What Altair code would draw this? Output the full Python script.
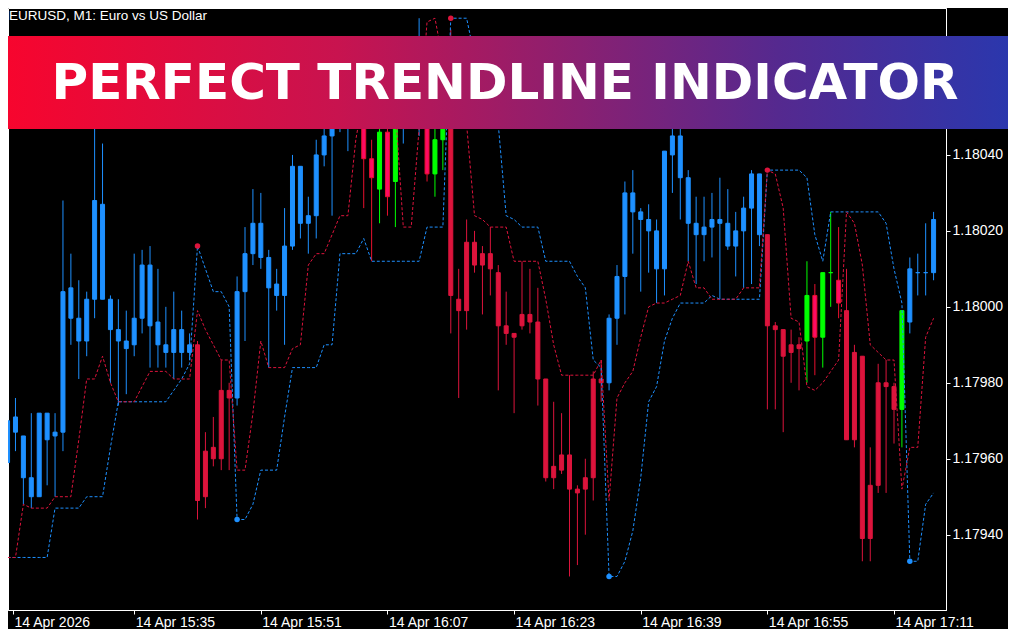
import altair as alt
import pandas as pd

# ---------------- data ----------------
# one candle per minute; index 0 = 14 Apr 15:19
candle_kind = ("bbbbbbbbbbbbbbbbbbbbbbbb" "rrrrr" "bbbbbbbbbbbbbbbb" "ppgpg" "bbb" "pgg"
               "rrrrrrrrrrrrrrrrrrrr" "bbbbbbbbbbbbbbbbbbbb" "rrrrr" "gpggp" "rrrrrrr" "g" "bbbb")

opens = [
    1.17959, 1.17967, 1.17955, 1.17950, 1.17950, 1.17965, 1.17966, 1.17967, 1.17997, 1.17991,
    1.17991, 1.18002, 1.18002, 1.17994, 1.17991, 1.17989, 1.17990, 1.17997, 1.17995, 1.17990,
    1.17988, 1.17988, 1.17988, 1.17988, 1.17990, 1.17962, 1.17963, 1.17978, 1.17978, 1.17976,
    1.18004, 1.18014, 1.18013, 1.18005, 1.18003, 1.18003, 1.18016, 1.18022, 1.18022, 1.18024,
    1.18040, 1.18045, 1.18050, 1.18049, 1.18056, 1.18055, 1.18039, 1.18031, 1.18046, 1.18033,
    1.18051, 1.18055, 1.18055, 1.18062, 1.18035, 1.18044, 1.18069, 1.18002, 1.18017, 1.18017,
    1.18014, 1.18014, 1.18009, 1.17995, 1.17993, 1.17998, 1.17998, 1.17996, 1.17981, 1.17958,
    1.17961, 1.17961, 1.17952, 1.17955, 1.17981, 1.17981, 1.17980, 1.17997, 1.18008, 1.18025,
    1.18023, 1.18020, 1.18010, 1.18010, 1.18040, 1.18034, 1.18022, 1.18019, 1.18019, 1.18021,
    1.18022, 1.18016, 1.18016, 1.18020, 1.18026, 1.18019, 1.18019, 1.17995, 1.17994, 1.17990,
    1.17990, 1.17991, 1.18003, 1.17992, 1.18009, 1.18007, 1.17999, 1.17988, 1.17987, 1.17953,
    1.17980, 1.17980, 1.17979, 1.17973, 1.17996, 1.18009, 1.18009, 1.18009]

highs = [
    1.17972, 1.17976, 1.17966, 1.17972, 1.17972, 1.17972, 1.17972, 1.18028, 1.18014, 1.18007,
    1.18004, 1.18050, 1.18043, 1.18003, 1.18002, 1.17999, 1.18014, 1.18015, 1.18016, 1.18010,
    1.18000, 1.18004, 1.17999, 1.17993, 1.17991, 1.17967, 1.17971, 1.17986, 1.17980, 1.18008,
    1.18021, 1.18031, 1.18030, 1.18015, 1.18010, 1.18026, 1.18040, 1.18037, 1.18029, 1.18044,
    1.18051, 1.18057, 1.18065, 1.18062, 1.18069, 1.18060, 1.18044, 1.18048, 1.18051, 1.18056,
    1.18068, 1.18070, 1.18076, 1.18068, 1.18052, 1.18065, 1.18073, 1.18010, 1.18023, 1.18020,
    1.18016, 1.18021, 1.18011, 1.18004, 1.17993, 1.18012, 1.18010, 1.18005, 1.17981, 1.17975,
    1.17972, 1.17982, 1.17953, 1.17960, 1.17983, 1.17986, 1.17998, 1.18011, 1.18033, 1.18036,
    1.18026, 1.18027, 1.18023, 1.18041, 1.18051, 1.18048, 1.18036, 1.18029, 1.18029, 1.18030,
    1.18034, 1.18031, 1.18025, 1.18029, 1.18036, 1.18035, 1.18019, 1.17996, 1.17994, 1.17994,
    1.17992, 1.18012, 1.18006, 1.18009, 1.18025, 1.18021, 1.18010, 1.17990, 1.17987, 1.17963,
    1.17985, 1.17986, 1.17980, 1.17999, 1.18013, 1.18014, 1.18022, 1.18025]

lows = [
    1.17958, 1.17962, 1.17948, 1.17947, 1.17950, 1.17953, 1.17950, 1.17962, 1.17990, 1.17981,
    1.17987, 1.17997, 1.18002, 1.17980, 1.17974, 1.17977, 1.17987, 1.17993, 1.17984, 1.17984,
    1.17984, 1.17981, 1.17984, 1.17986, 1.17944, 1.17947, 1.17958, 1.17957, 1.17957, 1.17974,
    1.17991, 1.18011, 1.18010, 1.17984, 1.17999, 1.17990, 1.18015, 1.18018, 1.18014, 1.18018,
    1.18037, 1.18024, 1.18046, 1.18041, 1.18052, 1.18026, 1.18012, 1.18022, 1.18024, 1.18021,
    1.18043, 1.18051, 1.18045, 1.18033, 1.18029, 1.18036, 1.17993, 1.17976, 1.17994, 1.18009,
    1.17998, 1.18003, 1.17978, 1.17990, 1.17972, 1.17994, 1.17993, 1.17974, 1.17954, 1.17952,
    1.17956, 1.17929, 1.17932, 1.17940, 1.17949, 1.17975, 1.17978, 1.17990, 1.17998, 1.18014,
    1.18004, 1.18009, 1.18001, 1.18003, 1.18030, 1.18023, 1.18012, 1.18006, 1.18012, 1.18013,
    1.18002, 1.18015, 1.18008, 1.18005, 1.18006, 1.18016, 1.17973, 1.17973, 1.17967, 1.17980,
    1.17978, 1.17980, 1.17982, 1.17984, 1.18000, 1.17997, 1.17965, 1.17963, 1.17933, 1.17933,
    1.17951, 1.17951, 1.17964, 1.17963, 1.17993, 1.18003, 1.18003, 1.18007]

closes = [
    1.17970, 1.17971, 1.17966, 1.17955, 1.17972, 1.17972, 1.17967, 1.18004, 1.18005, 1.17997,
    1.18002, 1.18028, 1.18027, 1.18002, 1.17994, 1.17991, 1.17997, 1.18011, 1.18011, 1.17996,
    1.17990, 1.17994, 1.17994, 1.17990, 1.17949, 1.17950, 1.17960, 1.17960, 1.17976, 1.18004,
    1.18014, 1.18022, 1.18022, 1.18013, 1.18006, 1.18016, 1.18037, 1.18037, 1.18024, 1.18040,
    1.18045, 1.18053, 1.18061, 1.18059, 1.18066, 1.18039, 1.18034, 1.18046, 1.18029, 1.18052,
    1.18062, 1.18065, 1.18068, 1.18035, 1.18044, 1.18060, 1.18003, 1.17999, 1.17999, 1.18011,
    1.18011, 1.18010, 1.17995, 1.17993, 1.17992, 1.17995, 1.17996, 1.17981, 1.17955, 1.17955,
    1.17957, 1.17952, 1.17951, 1.17952, 1.17955, 1.17980, 1.17997, 1.18008, 1.18030, 1.18030,
    1.18025, 1.18023, 1.18020, 1.18041, 1.18045, 1.18045, 1.18034, 1.18022, 1.18021, 1.18023,
    1.18023, 1.18022, 1.18020, 1.18026, 1.18035, 1.18035, 1.17995, 1.17994, 1.17987, 1.17988,
    1.17989, 1.18003, 1.17992, 1.18009, 1.18009, 1.18001, 1.17965, 1.17965, 1.17939, 1.17939,
    1.17953, 1.17979, 1.17973, 1.17999, 1.18010, 1.18009, 1.18009, 1.18023]

red_line = [
    1.17934, 1.17934, 1.17948, 1.17947, 1.17947, 1.17947, 1.17950, 1.17950, 1.17950, 1.17965,
    1.17981, 1.17981, 1.17987, 1.17980, 1.17975, 1.17975, 1.17975, 1.17979, 1.17983, 1.17983,
    1.17983, 1.17981, 1.17981, 1.17981, 1.17999, 1.17994, 1.17990, 1.17986, 1.17986, 1.17957,
    1.17957, 1.17972, 1.17991, 1.17984, 1.17984, 1.17984, 1.17989, 1.17990, 1.18011, 1.18014,
    1.18014, 1.18019, 1.18024, 1.18024, 1.18044, 1.18056, 1.18057, 1.18057, 1.18056, 1.18052,
    1.18021, 1.18021, 1.18047, 1.18075, 1.18076, 1.18065, 1.18060, 1.18056, 1.18048, 1.18024,
    1.18023, 1.18021, 1.18021, 1.18021, 1.18012, 1.18012, 1.18012, 1.18012, 1.18002, 1.17990,
    1.17982, 1.17982, 1.17982, 1.17982, 1.17982, 1.17986, 1.17949, 1.17976, 1.17980, 1.17983,
    1.17992, 1.18000, 1.18001, 1.18001, 1.18002, 1.18003, 1.18012, 1.18005, 1.18005, 1.18002,
    1.18002, 1.18002, 1.18002, 1.18005, 1.18005, 1.18005, 1.18036, 1.18035, 1.18026, 1.17997,
    1.17996, 1.17979, 1.17978, 1.17980, 1.17983, 1.17986, 1.18025, 1.18022, 1.18011, 1.17990,
    1.17988, 1.17986, 1.17986, 1.17952, 1.17963, 1.17963, 1.17992, 1.17997]

blue_line = [
    1.17934, 1.17934, 1.17934, 1.17934, 1.17934, 1.17934, 1.17947, 1.17947, 1.17947, 1.17947,
    1.17950, 1.17950, 1.17950, 1.17963, 1.17975, 1.17975, 1.17975, 1.17975, 1.17975, 1.17975,
    1.17975, 1.17978, 1.17981, 1.17985, 1.18016, 1.18010, 1.18004, 1.18004, 1.18000, 1.17944,
    1.17944, 1.17948, 1.17957, 1.17957, 1.17957, 1.17971, 1.17984, 1.17984, 1.17984, 1.17984,
    1.17990, 1.17990, 1.18014, 1.18014, 1.18014, 1.18018, 1.18012, 1.18012, 1.18012, 1.18012,
    1.18012, 1.18012, 1.18012, 1.18021, 1.18021, 1.18021, 1.18076, 1.18076, 1.18076, 1.18066,
    1.18060, 1.18054, 1.18048, 1.18024, 1.18023, 1.18021, 1.18021, 1.18021, 1.18012, 1.18012,
    1.18012, 1.18012, 1.18008, 1.18005, 1.17986, 1.17984, 1.17929, 1.17929, 1.17933, 1.17941,
    1.17955, 1.17975, 1.17979, 1.17991, 1.17997, 1.18001, 1.18001, 1.18001, 1.18001, 1.18003,
    1.18002, 1.18002, 1.18002, 1.18002, 1.18002, 1.18002, 1.18036, 1.18036, 1.18036, 1.18036,
    1.18036, 1.18034, 1.18019, 1.18012, 1.18025, 1.18025, 1.18025, 1.18025, 1.18025, 1.18025,
    1.18025, 1.18022, 1.18010, 1.18001, 1.17933, 1.17933, 1.17948, 1.17951]

sell_dots = [24, 56, 96]   # red markers on the blue line
buy_dots = [29, 76, 114]   # blue markers on the blue line

y_ticks = [1.17940, 1.17960, 1.17980, 1.18000, 1.18020, 1.18040]
x_tick_minutes = [0, 16, 32, 48, 64, 80, 96, 112]
x_tick_labels = ["14 Apr 2026", "14 Apr 15:35", "14 Apr 15:51", "14 Apr 16:07",
                 "14 Apr 16:23", "14 Apr 16:39", "14 Apr 16:55", "14 Apr 17:11"]

kind_names = ["b", "r", "g", "p"]
kind_fill = ["#1E90FF", "#DC143C", "#00FF00", "#FF0A64"]
kind_stroke = ["#1E90FF", "#DC143C", "#00FF00", "#E8102E"]

title_text = "PERFECT TRENDLINE INDICATOR"
symbol_text = "EURUSD, M1:  Euro vs US Dollar"

# ---------------- layout ----------------
W, H = 938, 602
PAD_R, PAD_B = 62, 19
TOTAL_W = W + PAD_R
X_MIN = 0.6875
X_MAX = X_MIN + W / 8.0
Y_MIN, Y_MAX = 1.1792017, 1.1807869

assert len(candle_kind) == 118
n = len(opens)
df = pd.DataFrame({
    "k": list(range(n)), "open": opens, "high": highs, "low": lows, "close": closes,
    "kind": list(candle_kind), "red": red_line, "blue": blue_line,
})
sell_df = pd.DataFrame({"k": sell_dots, "v": [blue_line[i] for i in sell_dots]})
buy_df = pd.DataFrame({"k": buy_dots, "v": [blue_line[i] for i in buy_dots]})

x_pos = [max(t, X_MIN) for t in x_tick_minutes]
label_expr = ""
for p, t in zip(x_pos, x_tick_labels):
    label_expr += f"abs(datum.value - {p}) < 0.01 ? '{t}' : "
label_expr += "''"

xs = alt.Scale(domain=[X_MIN, X_MAX], nice=False, zero=False)
ys = alt.Scale(domain=[Y_MIN, Y_MAX], nice=False, zero=False)
axis_font = "Liberation Sans"
x_axis = alt.Axis(values=x_pos, labelExpr=label_expr, title=None, grid=False, tickSize=4,
                  labelPadding=1, labelAlign="left", labelBaseline="top", labelOffset=1,
                  labelFlush=False, labelOverlap=False, labelBound=False,
                  labelColor="#FFFFFF", tickColor="#FFFFFF", domainColor="#FFFFFF",
                  labelFont=axis_font, labelFontSize=14)
y_axis = alt.Axis(orient="right", values=y_ticks, format=".5f", title=None, grid=False,
                  tickSize=4, labelPadding=2, labelColor="#FFFFFF", tickColor="#FFFFFF",
                  domainColor="#FFFFFF", labelFont=axis_font, labelFontSize=14,
                  labelOverlap=False, labelBound=False, labelFlush=False)

X = alt.X("k:Q", scale=xs, axis=x_axis)
kind_color = alt.Color("kind:N", scale=alt.Scale(domain=kind_names, range=kind_stroke), legend=None)

base = alt.Chart(df)
wicks = base.mark_rule(strokeWidth=1, clip=True).encode(
    x=X, y=alt.Y("low:Q", scale=ys, axis=y_axis), y2="high:Q", color=kind_color)
bodies = base.mark_bar(size=4, strokeWidth=1, clip=True).encode(
    x=X, y=alt.Y("open:Q", scale=ys, axis=y_axis), y2="close:Q",
    fill=alt.Fill("kind:N", scale=alt.Scale(domain=kind_names, range=kind_fill), legend=None),
    stroke=alt.Stroke("kind:N", scale=alt.Scale(domain=kind_names, range=kind_stroke), legend=None))
blue_ln = base.mark_line(color="#1E90FF", strokeWidth=1, strokeDash=[3, 2], clip=True).encode(
    x=X, y=alt.Y("blue:Q", scale=ys, axis=y_axis))
red_ln = base.mark_line(color="#DC143C", strokeWidth=1, strokeDash=[3, 2], clip=True).encode(
    x=X, y=alt.Y("red:Q", scale=ys, axis=y_axis))
sell_layer = alt.Chart(sell_df).mark_circle(size=30, opacity=1, color="#DC143C", clip=True).encode(
    x=X, y=alt.Y("v:Q", scale=ys, axis=y_axis))
buy_layer = alt.Chart(buy_df).mark_circle(size=30, opacity=1, color="#1E90FF", clip=True).encode(
    x=X, y=alt.Y("v:Q", scale=ys, axis=y_axis))

one = pd.DataFrame({"a": [0]})
banner = alt.Chart(one).mark_rect(
    fill=alt.Gradient(gradient="linear", x1=0, x2=1, y1=0, y2=0, stops=[
        alt.GradientStop(color="#F7052E", offset=0.0),
        alt.GradientStop(color="#C8134F", offset=0.33),
        alt.GradientStop(color="#8F1F6E", offset=0.55),
        alt.GradientStop(color="#55298F", offset=0.77),
        alt.GradientStop(color="#2B37AD", offset=1.0),
    ])).encode(x=alt.value(0), x2=alt.value(TOTAL_W), y=alt.value(28), y2=alt.value(121))
banner_text = alt.Chart(one).mark_text(
    text=title_text, font="DejaVu Sans", fontWeight="bold", fontSize=50, color="#FFFFFF",
    align="center", baseline="alphabetic").encode(x=alt.value(497), y=alt.value(91))
symbol = alt.Chart(one).mark_text(
    text=symbol_text, font=axis_font, fontSize=13.5, color="#FFFFFF",
    align="left", baseline="alphabetic").encode(x=alt.value(1), y=alt.value(12))

chart = alt.layer(wicks, bodies, blue_ln, red_ln, sell_layer, buy_layer,
                  banner, banner_text, symbol).properties(
    width=W, height=H,
    padding={"left": 0, "top": 0, "right": PAD_R, "bottom": PAD_B},
    autosize=alt.AutoSizeParams(type="none"),
    background="#000000",
).configure_view(stroke="#FFFFFF", strokeWidth=1)

chart.save("out.html", embed_options={"renderer": "svg", "actions": False})
